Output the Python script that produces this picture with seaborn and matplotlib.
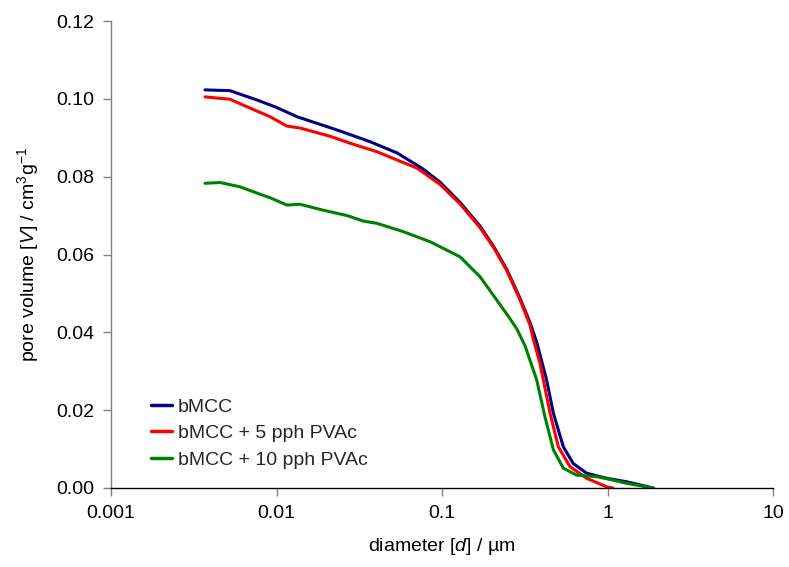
import matplotlib
matplotlib.use("Agg")
import matplotlib.pyplot as plt
import seaborn as sns
import pandas as pd
import numpy as np

# --- data ---
d_bmcc = [0.0037, 0.00524, 0.00762, 0.01, 0.0133, 0.0232, 0.0367, 0.0535, 0.0767,
          0.0973, 0.1285, 0.1697, 0.2042, 0.246, 0.2958, 0.3404, 0.3733, 0.4285,
          0.4711, 0.5408, 0.6209, 0.748, 0.9885, 1.306, 1.891]
v_bmcc = [0.1023, 0.1021, 0.0997, 0.0978, 0.0954, 0.0920, 0.0890, 0.0861, 0.0820,
          0.0786, 0.0734, 0.0673, 0.0622, 0.0562, 0.0488, 0.0425, 0.0375, 0.0278,
          0.0192, 0.0106, 0.0063, 0.0038, 0.0025, 0.0016, 0.0]

d_pvac5 = [0.0037, 0.00524, 0.00628, 0.00914, 0.01156, 0.01387, 0.0210, 0.0278, 0.0405,
           0.0706, 0.0973, 0.1285, 0.1697, 0.2042, 0.246, 0.2958, 0.3404, 0.3566,
           0.3908, 0.4093, 0.4498, 0.5048, 0.5929, 0.748, 0.9885, 1.079]
v_pvac5 = [0.1005, 0.0999, 0.0984, 0.0954, 0.0930, 0.0925, 0.0904, 0.0886, 0.0864,
           0.0822, 0.0780, 0.0730, 0.0669, 0.0619, 0.0559, 0.0484, 0.0418, 0.0382,
           0.0320, 0.0278, 0.0192, 0.0106, 0.0055, 0.0025, 0.0003, 0.0]

d_pvac10 = [0.0037, 0.00456, 0.00601, 0.00794, 0.00914, 0.01156, 0.01387, 0.0191, 0.0267,
            0.0334, 0.0405, 0.0581, 0.0845, 0.0973, 0.1285, 0.1697, 0.2143, 0.2577,
            0.2838, 0.3177, 0.3733, 0.4188, 0.4711, 0.5408, 0.6516, 0.861, 1.035,
            1.306, 1.891]
v_pvac10 = [0.0783, 0.0785, 0.0774, 0.0755, 0.0746, 0.0727, 0.0729, 0.0714, 0.0700,
            0.0686, 0.0680, 0.0659, 0.0633, 0.0620, 0.0594, 0.0543, 0.0483, 0.0435,
            0.0408, 0.0365, 0.0278, 0.0183, 0.0098, 0.0051, 0.0033, 0.0029, 0.0022,
            0.0012, 0.0]

series_names = ["bMCC", "bMCC + 5 pph PVAc", "bMCC + 10 pph PVAc"]
series_colors = ["#000080", "#FF0000", "#008000"]
x_ticks = [0.001, 0.01, 0.1, 1, 10]
x_tick_labels = ["0.001", "0.01", "0.1", "1", "10"]
y_ticks = [0.0, 0.02, 0.04, 0.06, 0.08, 0.10, 0.12]

frames = []
for name, d, v in zip(series_names, [d_bmcc, d_pvac5, d_pvac10],
                      [v_bmcc, v_pvac5, v_pvac10]):
    frames.append(pd.DataFrame({"d": d, "V": v, "series": name}))
df = pd.concat(frames, ignore_index=True)

sns.set_theme(style="ticks")
plt.rcParams["font.family"] = ["Liberation Sans", "DejaVu Sans"]
plt.rcParams["mathtext.fontset"] = "custom"
plt.rcParams["mathtext.rm"] = "Liberation Sans"
plt.rcParams["mathtext.it"] = "Liberation Sans:italic"

FS = 14

fig = plt.figure(figsize=(7.89, 5.67), dpi=100)
ax = fig.add_axes([111 / 789, 79 / 567, 662 / 789, 467 / 567])

sns.lineplot(data=df, x="d", y="V", hue="series", hue_order=series_names,
             palette=series_colors, linewidth=2.2, sort=False, estimator=None,
             ax=ax)
for ln in ax.get_lines():
    ln.set_solid_joinstyle("round")
    ln.set_solid_capstyle("round")

ax.set_xscale("log")
ax.set_xlim(0.001, 10)
ax.set_ylim(0, 0.12)
ax.set_xticks(x_ticks)
ax.set_xticklabels(x_tick_labels)
ax.xaxis.set_minor_locator(matplotlib.ticker.NullLocator())
ax.set_yticks(y_ticks)
ax.set_yticklabels([f"{t:.2f}" for t in y_ticks])

for s in ["top", "right"]:
    ax.spines[s].set_visible(False)
ax.spines["left"].set_color("#808080")
ax.spines["bottom"].set_color("#000000")
for s in ["left", "bottom"]:
    ax.spines[s].set_linewidth(1.0)
ax.tick_params(axis="both", direction="out", length=6, width=1.0,
               color="#808080", labelsize=FS, labelcolor="black", pad=6)

ax.set_xlabel("diameter [$\\it{d}$] / µm", fontsize=FS, color="black", labelpad=10)
ax.set_ylabel("pore volume [$\\it{V}$] / cm$^{3}$g$^{-1}$", fontsize=FS,
              color="black", labelpad=11)

leg = ax.legend(loc="lower left", bbox_to_anchor=(0.048, 0.025), frameon=False,
                fontsize=FS, handlelength=1.1, handletextpad=0.3,
                labelspacing=0.45, borderaxespad=0.0)
for line in leg.get_lines():
    line.set_linewidth(2.5)

fig.savefig("out.png", dpi=100)
